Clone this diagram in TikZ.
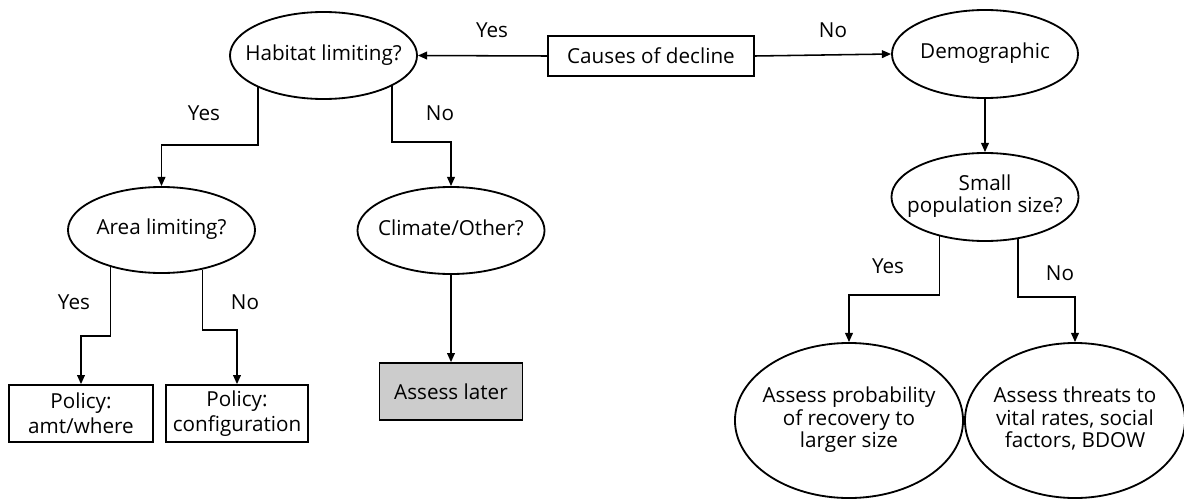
\documentclass[tikz,border=0pt]{standalone}
\usepackage{fontspec}
\setmainfont{Open Sans}
\usepackage{tikz}
\usetikzlibrary{shapes.geometric, arrows.meta, positioning, calc}
\definecolor{latergray}{RGB}{204,204,204}
% text of zero width, so the shape keeps its given size
\newcommand{\ztext}[1]{\makebox[0pt]{\begin{tabular}{@{}c@{}}#1\end{tabular}}}

\begin{document}
\begin{tikzpicture}[
  x=0.025cm, y=-0.025cm,
  font=\fontsize{14.7}{15.6}\selectfont,
  oval/.style 2 args={ellipse, draw, line width=1.3pt, fill=white, inner sep=0pt,
                      minimum width=#1cm, minimum height=#2cm},
  box/.style 2 args={rectangle, draw, line width=1.2pt, inner sep=0pt,
                     minimum width=#1cm, minimum height=#2cm, align=center,
                     font=\fontsize{14.7}{17.5}\selectfont},
  arr/.style={-{Triangle[length=6.5pt, width=5.5pt]}, line width=1.1pt},
  lbl/.style={inner sep=0pt},
]
  \useasboundingbox (0,0) rectangle (1184,500);

  % top row
  \node[box={5.15}{1}] (cause) at (651,56) {Causes of decline};
  \node[oval={4.675}{2.175}] (habitat) at (323.5,55.5) {\ztext{Habitat limiting?}};
  \node[oval={4.65}{2.2}] (demog) at (985,54) {\ztext{Demographic}};

  % habitat branch
  \node[oval={4.675}{2.15}] (area) at (161.5,230) {\ztext{Area limiting?}};
  \node[oval={4.675}{2.175}] (climate) at (451,230.5) {\ztext{Climate/Other?}};
  \node[box={3.6}{1.425}] (pol1) at (81,413.5) {Policy:\\amt/where};
  \node[box={3.55}{1.425}] (pol2) at (237,413.5) {Policy:\\configuration};
  \node[box={3.575}{1.425}, fill=latergray] (later) at (451,391.5) {Assess later};

  % demographic branch
  \node[oval={4.675}{2.2}] (small) at (985,197) {\ztext{Small\\population size?}};
  \node[oval={5.7}{3.875}] (prob) at (849,420.5)
    {\ztext{Assess probability\\of recovery to\\larger size}};
  \node[oval={5.5}{3.875}] (threat) at (1075,420.5)
    {\ztext{Assess threats to\\vital rates, social\\factors, BDOW}};

  % connectors
  \draw[arr] (cause.west) -- (habitat.east);
  \draw[arr] (cause.east) -- (demog.west);
  \draw[arr] (habitat.206) -- (habitat.206 |- 0,145) -| (area.north);
  \draw[arr] (habitat.336) -- (habitat.336 |- 0,142) -| (climate.north);
  \draw[arr] (area.216) -- (area.216 |- 0,336) -| (pol1.north);
  \draw[arr] (area.316) -- (area.316 |- 0,330) -| (pol2.north);
  \draw[arr] (climate.south) -- (later.north);
  \draw[arr] (demog.south) -- (small.north);
  \draw[arr] (small.221) -- (small.221 |- 0,295) -| (prob.north);
  \draw[arr] (small.308) -- (small.308 |- 0,297) -| (threat.north);

  % branch labels
  \node[lbl] (ytop) at (492,30) {Yes};
  \node[lbl] (ntop) at (833,30) {No};
  \node[lbl] (yhab) at (204,113) {Yes};
  \node[lbl] (nhab) at (440,113) {No};
  \node[lbl] (yarea) at (74,302) {Yes};
  \node[lbl] (narea) at (245,302) {No};
  \node[lbl] (ysmall) at (888,266) {Yes};
  \node[lbl] (nsmall) at (1060,273) {No};
\end{tikzpicture}
\end{document}
